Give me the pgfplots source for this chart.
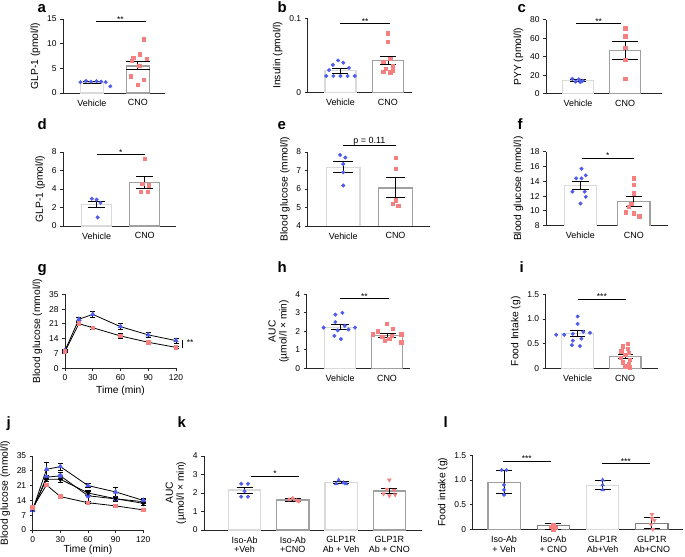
\documentclass[border=0pt]{standalone}
\usepackage{fontspec}
\setmainfont{Liberation Sans}
\usepackage{pgfplots}
\pgfplotsset{compat=1.18}

\definecolor{vblue}{RGB}{78,92,238}
\definecolor{cpink}{RGB}{246,128,128}
\definecolor{lgray}{RGB}{218,218,218}
\definecolor{mgray}{RGB}{160,160,160}

\pgfplotsset{
 panel/.style={
  scale only axis, anchor=south west, clip=false, height=74bp,
  axis x line*=bottom, axis y line*=left,
  axis line style={-, line width=0.9bp, black!85},
  tick style={line width=0.9bp, black!85},
  tick align=outside, major tick length=3bp,
  tick label style={font=\fontsize{8.5}{9}\selectfont},
  label style={font=\fontsize{10.3}{11}\selectfont},
  /pgf/number format/assume math mode=true,
 },
 cat/.style={xtick style={draw=none}, xticklabel style={font=\fontsize{9}{10}\selectfont, align=center}},
 vbar/.style={ybar, bar shift=0pt, fill=white, draw=lgray, line width=1.3bp},
 cbar/.style={ybar, bar shift=0pt, fill=white, draw=mgray, line width=1.3bp},
 vpoly/.style={fill=white, draw=lgray, line width=1.3bp, mark=none},
 cpoly/.style={fill=white, draw=mgray, line width=1.3bp, mark=none},
 vdots/.style={only marks, mark=*, mark size=1.8bp, color=vblue},
 cdots/.style={only marks, mark=square*, mark size=1.7bp, color=cpink},
 eb/.style={draw=none, mark=none, forget plot, error bars/.cd, y dir=both, y explicit,
   error bar style={draw=black, line width=0.9bp},
   error mark options={rotate=90, draw=black, line width=0.9bp, mark size=#1}},
 eb/.default=8bp,
 lineeb/.style={error bars/.cd, y dir=both, y explicit, error bar style={black, line width=0.7bp},
  error mark options={rotate=90, black, line width=0.7bp, mark size=2.5bp}},
}
\tikzset{
 sig/.style={line width=0.9bp},
 star/.style={font=\fontsize{8.5}{8.5}\selectfont, anchor=base, yshift=-1bp},
 plab/.style={font=\fontsize{15}{15}\selectfont\bfseries, anchor=base west},
}

\begin{document}
\begin{tikzpicture}
\path[use as bounding box] (0,0) rectangle (685bp,557bp);

% panel letters
\node[plab] at (34bp,544bp) {a};
\node[plab] at (274bp,544bp) {b};
\node[plab] at (514bp,544bp) {c};
\node[plab] at (34bp,427bp) {d};
\node[plab] at (274bp,427bp) {e};
\node[plab] at (514bp,427bp) {f};
\node[plab] at (34bp,284bp) {g};
\node[plab] at (274bp,284bp) {h};
\node[plab] at (516bp,284bp) {i};
\node[plab] at (3bp,129bp) {j};
\node[plab] at (174bp,129bp) {k};
\node[plab] at (440bp,129bp) {l};

% ---------- a ----------
\begin{axis}[panel, cat, at={(63bp,464bp)}, width=102bp, xmin=-0.63, xmax=1.59,
  ymin=0, ymax=15, ytick={0,5,10,15}, xtick={0,1}, xticklabels={Vehicle,CNO},
  ylabel={GLP-1 (pmol/l)}]
\addplot[vbar, bar width=0.5] coordinates {(0,2.15)};
\addplot[cbar, bar width=0.5] coordinates {(1,5.5)};
\addplot[vdots] coordinates {(-0.25,2.2) (-0.13,2.45) (-0.02,2.3) (0.1,2.4) (0.2,2.3) (0.3,2.2) (0.4,1.35)};
\addplot[cdots] coordinates {(1.13,10.9) (1.04,7.9) (0.9,7.1) (1.19,7.0) (0.87,6.6) (1.03,5.5) (0.84,3.4) (1.13,2.7) (1.0,1.7)};
\addplot[eb=9bp] coordinates {(0,2.15) +- (0,0.15)};
\addplot[eb=12bp] coordinates {(1,5.55) +- (0,0.85)};
\draw[sig] (axis cs:0.08,14.45) -- (axis cs:1.17,14.45);
\node[star] at (axis cs:0.62,14.45) {**};
\end{axis}

% ---------- b ----------
\begin{axis}[panel, cat, at={(307.7bp,464.7bp)}, width=104bp, xmin=-0.69, xmax=1.5,
  ymin=0, ymax=0.1, ytick={0,0.1}, yticklabels={0,0.1}, xtick={0,1}, xticklabels={Vehicle,CNO},
  ylabel={Insulin (pmol/l)}]
\addplot[vbar, bar width=0.65] coordinates {(0,0.029)};
\addplot[cbar, bar width=0.65] coordinates {(1,0.043)};
\addplot[vdots] coordinates {(-0.05,0.043) (0.06,0.040) (-0.16,0.037) (0.18,0.033) (-0.24,0.030) (-0.3,0.022) (-0.15,0.022) (0.0,0.022) (0.15,0.022) (0.3,0.022)};
\addplot[cdots] coordinates {(1,0.080) (1,0.068) (1.05,0.045) (0.9,0.041) (1.1,0.036) (0.95,0.032) (1.1,0.030) (0.9,0.028) (1.05,0.027)};
\addplot[eb=8bp] coordinates {(0,0.029) +- (0,0.003)};
\addplot[eb=8bp] coordinates {(1,0.043) +- (0,0.006)};
\draw[sig] (axis cs:0.0,0.093) -- (axis cs:1.04,0.093);
\node[star] at (axis cs:0.52,0.093) {**};
\end{axis}

% ---------- c ----------
\begin{axis}[panel, cat, at={(546bp,463.3bp)}, width=115.7bp, xmin=-0.68, xmax=1.78,
  ymin=0, ymax=80, ytick={0,20,40,60,80}, xtick={0,1}, xticklabels={Vehicle,CNO},
  ylabel={PYY (pmol/l)}]
\addplot[vbar, bar width=0.66] coordinates {(0,14.3)};
\addplot[cbar, bar width=0.66] coordinates {(1,46.4)};
\addplot[vdots] coordinates {(-0.12,16) (0.02,15.5) (0.1,14) (-0.05,13) (0.05,12.5)};
\addplot[cdots] coordinates {(1,71) (1,62) (1,50) (1,37) (1,16)};
\addplot[eb=8bp] coordinates {(0,14.25) +- (0,1.25)};
\addplot[eb=13bp] coordinates {(1,46.6) +- (0,9.8)};
\draw[sig] (axis cs:-0.04,75.4) -- (axis cs:0.91,75.4);
\node[star] at (axis cs:0.44,75.4) {**};
\end{axis}

% ---------- d ----------
\begin{axis}[panel, cat, at={(63bp,331bp)}, width=113bp, xmin=-0.70, xmax=1.65,
  ymin=0, ymax=8, ytick={0,2,4,6,8}, xtick={0,1}, xticklabels={Vehicle,CNO},
  ylabel={GLP-1 (pmol/l)}]
\addplot[vbar, bar width=0.625] coordinates {(0,2.33)};
\addplot[cbar, bar width=0.625] coordinates {(1,4.7)};
\addplot[vdots] coordinates {(-0.1,2.95) (0.0,2.85) (0.08,2.5) (0.02,0.93)};
\addplot[cdots] coordinates {(1,7.25) (0.95,4.6) (1.08,4.4) (0.92,3.7) (1.06,3.7)};
\addplot[eb=8.5bp] coordinates {(0,2.33) +- (0,0.37)};
\addplot[eb=8.5bp] coordinates {(1,4.75) +- (0,0.65)};
\draw[sig] (axis cs:0,7.75) -- (axis cs:1.0,7.75);
\node[star] at (axis cs:0.5,7.75) {*};
\end{axis}

% ---------- e ----------
\begin{axis}[panel, cat, at={(307.7bp,331bp)}, width=122.3bp, xmin=-0.68, xmax=1.66,
  ymin=4, ymax=8, ytick={4,5,6,7,8}, xtick={0,1}, xticklabels={Vehicle,CNO},
  ylabel={Blood glucose (mmol/l)}]
\addplot[vpoly] coordinates {(-0.32,4) (-0.32,7.17) (0.32,7.17) (0.32,4)};
\addplot[cpoly] coordinates {(0.68,4) (0.68,6.05) (1.32,6.05) (1.32,4)};
\addplot[vdots] coordinates {(-0.06,7.84) (0.04,7.7) (0.0,7.35) (0.0,6.9) (0.0,6.19)};
\addplot[cdots] coordinates {(1,7.7) (1,7.1) (1,5.4) (0.95,5.2) (1.05,5.1)};
\addplot[eb=10bp] coordinates {(0,7.2) +- (0,0.3)};
\addplot[eb=9.5bp] coordinates {(1,6.1) +- (0,0.55)};
\draw[sig] (axis cs:0,8.34) -- (axis cs:1.0,8.34);
\node[font=\fontsize{9}{9}\selectfont, anchor=base] at (axis cs:0.5,8.48) {p = 0.11};
\end{axis}

% ---------- f ----------
\begin{axis}[panel, cat, at={(546bp,331.3bp)}, width=122bp, xmin=-0.645, xmax=1.64,
  ymin=8, ymax=18, ytick={8,10,12,14,16,18}, xtick={0,1}, xticklabels={Vehicle,CNO},
  ylabel={Blood glucose (mmol/l)}]
\addplot[vpoly] coordinates {(-0.3,8) (-0.3,13.4) (0.3,13.4) (0.3,8)};
\addplot[cpoly] coordinates {(0.7,8) (0.7,11.25) (1.3,11.25) (1.3,8)};
\addplot[vdots] coordinates {(0.02,15.7) (0.1,14.8) (-0.08,14.4) (0.02,14.4) (-0.15,12.6) (0.08,12.6) (0.1,11.9) (0.0,11.0)};
\addplot[cdots] coordinates {(1,14.4) (1,13.5) (1,12.4) (0.95,11.0) (0.9,10.6) (0.85,9.8) (1.0,9.7) (1.1,9.3)};
\addplot[eb=8.3bp] coordinates {(0,13.45) +- (0,0.55)};
\addplot[eb=8.3bp] coordinates {(1,11.3) +- (0,0.7)};
\draw[sig] (axis cs:0.02,17.15) -- (axis cs:1.0,17.15);
\node[star] at (axis cs:0.51,17.15) {*};
\end{axis}

% ---------- g ----------
\begin{axis}[panel, at={(65bp,188.7bp)}, width=111bp, xmin=0, xmax=120,
  ymin=0, ymax=35, ytick={0,7,14,21,28,35}, xtick={0,30,60,90,120},
  xlabel={Time (min)}, xlabel style={yshift=2bp}, ylabel={Blood glucose (mmol/l)}]
\addplot[black, line width=0.8bp, mark=triangle*, mark options={vblue, mark size=2.4bp}, lineeb]
 coordinates {(0,8.4) +- (0,0.5) (15,23.2) +- (0,0.8) (30,25.5) +- (0,1.5) (60,19.7) +- (0,1.5) (90,15.8) +- (0,1.2) (120,13.1) +- (0,1.2)};
\addplot[black, line width=0.8bp, mark=square*, mark options={cpink, mark size=1.8bp}, lineeb]
 coordinates {(0,8.0) +- (0,0.5) (15,21.1) +- (0,0.6) (30,19.2) +- (0,0.6) (60,15.3) +- (0,1.0) (90,12.3) +- (0,0.6) (120,9.9) +- (0,0.6)};
\draw[line width=0.9bp] (axis cs:126.5,9.6) -- (axis cs:126.5,13.4);
\node[font=\fontsize{8.5}{8.5}\selectfont, anchor=west] at (axis cs:128,12.2) {**};
\end{axis}

% ---------- h ----------
\begin{axis}[panel, cat, at={(306.7bp,188.7bp)}, width=103.3bp, xmin=-0.71, xmax=1.49,
  ymin=0, ymax=4, ytick={0,1,2,3,4}, xtick={0,1}, xticklabels={Vehicle,CNO},
  ylabel={AUC\\(µmol/l × min)}, ylabel style={align=center}]
\addplot[vbar, bar width=0.67] coordinates {(0,2.2)};
\addplot[cbar, bar width=0.67] coordinates {(1,1.77)};
\addplot[vdots] coordinates {(-0.1,2.9) (0.05,3.0) (-0.1,2.5) (0.1,2.3) (-0.35,2.2) (0.32,2.2) (0.18,2.1) (-0.05,2.05) (-0.12,1.75) (0.02,1.58)};
\addplot[cdots] coordinates {(1.0,2.4) (1.12,2.15) (0.8,2.0) (0.7,1.85) (1.3,1.85) (1.1,1.75) (0.9,1.7) (1.05,1.6) (1.3,1.4) (0.95,1.5)};
\addplot[eb=8.7bp] coordinates {(0,2.23) +- (0,0.15)};
\addplot[eb=8.7bp] coordinates {(1,1.78) +- (0,0.1)};
\draw[sig] (axis cs:0,3.75) -- (axis cs:1.04,3.75);
\node[star] at (axis cs:0.52,3.75) {**};
\end{axis}

% ---------- i ----------
\begin{axis}[panel, cat, at={(545.7bp,188.7bp)}, width=112.3bp, xmin=-0.67, xmax=1.69,
  ymin=0, ymax=1.5, ytick={0,0.5,1,1.5}, yticklabels={0,0.5,1.0,1.5}, xtick={0,1}, xticklabels={Vehicle,CNO},
  ylabel={Food Intake (g)}]
\addplot[vbar, bar width=0.67] coordinates {(0,0.70)};
\addplot[cbar, bar width=0.67] coordinates {(1,0.24)};
\addplot[vdots] coordinates {(0,1.05) (0,0.9) (-0.45,0.68) (-0.28,0.68) (-0.1,0.7) (0.12,0.74) (0.26,0.72) (-0.1,0.56) (0.08,0.6) (-0.12,0.47) (0.05,0.45)};
\addplot[cdots] coordinates {(1.05,0.5) (0.95,0.45) (1.05,0.4) (0.92,0.35) (1.08,0.32) (1.0,0.28) (0.9,0.22) (1.1,0.18) (0.95,0.12) (1.08,0.08) (1.0,0.04) (1.1,0.02)};
\addplot[eb=7.5bp] coordinates {(0,0.705) +- (0,0.055)};
\addplot[eb=7.5bp] coordinates {(1,0.245) +- (0,0.045)};
\draw[sig] (axis cs:0,1.405) -- (axis cs:1.02,1.405);
\node[star] at (axis cs:0.51,1.405) {***};
\end{axis}

% ---------- j ----------
\begin{axis}[panel, at={(32.7bp,27bp)}, width=110.6bp, xmin=0, xmax=120,
  ymin=0, ymax=35, ytick={0,7,14,21,28,35}, xtick={0,30,60,90,120},
  xlabel={Time (min)}, xlabel style={yshift=4bp}, ylabel={Blood glucose (mmol/l)}]
\addplot[black, line width=0.8bp, mark=triangle*, mark options={vblue, mark size=2.4bp}, lineeb]
 coordinates {(0,9.5) +- (0,0.5) (15,28.7) +- (0,3.5) (30,30.0) +- (0,1.6) (60,21.0) +- (0,1.0) (90,18.0) +- (0,2.0) (120,14.0) +- (0,1.0)};
\addplot[black, line width=0.8bp, mark=*, mark options={vblue, mark size=2.1bp}, lineeb]
 coordinates {(0,9.5) +- (0,0.5) (15,25.0) +- (0,1.0) (30,25.6) +- (0,1.5) (60,16.2) +- (0,2.5) (90,14.7) +- (0,1.0) (120,13.4) +- (0,1.0)};
\addplot[black, line width=0.8bp, mark=triangle*, mark options={rotate=180, black, mark size=2.2bp}, lineeb]
 coordinates {(0,10.0) +- (0,0.5) (15,24.0) +- (0,1.0) (30,24.0) +- (0,1.6) (60,17.5) +- (0,1.0) (90,14.8) +- (0,0.8) (120,12.6) +- (0,0.8)};
\addplot[black, line width=0.8bp, mark=square*, mark options={cpink, mark size=1.8bp}, lineeb]
 coordinates {(0,10.6) +- (0,0.5) (15,21.3) +- (0,0.6) (30,15.8) +- (0,0.5) (60,12.9) +- (0,0.5) (90,11.4) +- (0,0.5) (120,9.5) +- (0,0.5)};
\end{axis}

% ---------- k ----------
\begin{axis}[panel, cat, at={(204bp,27bp)}, width=217.7bp, xmin=-0.84, xmax=3.67,
  ymin=0, ymax=4, ytick={0,1,2,3,4}, xtick={0,1,2,3},
  xticklabels={{Iso-Ab\\+Veh},{Iso-Ab\\+CNO},{GLP1R\\Ab + Veh},{GLP1R\\Ab + CNO}},
  ylabel={AUC\\(µmol/l × min)}, ylabel style={align=center}]
\addplot[vbar, bar width=0.67] coordinates {(0,2.16)};
\addplot[cbar, bar width=0.67] coordinates {(1,1.62)};
\addplot[vbar, bar width=0.67] coordinates {(2,2.56)};
\addplot[cbar, bar width=0.67] coordinates {(3,2.1)};
\addplot[vdots] coordinates {(-0.07,2.5) (0.07,2.5) (0.0,2.1) (-0.07,1.8) (0.07,1.8)};
\addplot[only marks, mark=*, mark size=1.8bp, color=cpink] coordinates {(1.0,1.72) (0.92,1.65) (1.08,1.6) (1.12,1.55)};
\addplot[only marks, mark=triangle*, mark size=2.2bp, color=vblue] coordinates {(1.95,2.7) (2.05,2.55) (1.9,2.5) (2.1,2.5)};
\addplot[only marks, mark=triangle*, mark size=2.2bp, mark options={rotate=180}, color=cpink] coordinates {(3.0,2.7) (2.95,2.2) (3.1,2.15) (2.88,1.95) (3.12,1.9) (3.0,1.85)};
\addplot[eb=8bp] coordinates {(0,2.14) +- (0,0.16)};
\addplot[eb=8bp] coordinates {(1,1.625) +- (0,0.075)};
\addplot[eb=8bp] coordinates {(2,2.575) +- (0,0.075)};
\addplot[eb=8bp] coordinates {(3,2.12) +- (0,0.12)};
\draw[sig] (axis cs:0.13,2.92) -- (axis cs:1.13,2.92);
\node[star] at (axis cs:0.63,2.92) {*};
\end{axis}

% ---------- l ----------
\begin{axis}[panel, cat, at={(472.7bp,27.7bp)}, width=210.3bp, xmin=-0.635, xmax=3.63,
  ymin=0, ymax=1.5, ytick={0,0.5,1,1.5}, yticklabels={0,0.5,1.0,1.5}, xtick={0,1,2,3},
  xticklabels={{Iso-Ab\\+ Veh},{Iso-Ab\\+ CNO},{GLP1R\\Ab+Veh},{GLP1R\\Ab+CNO}},
  ylabel={Food intake (g)}]
\addplot[ybar, bar shift=0pt, bar width=0.655, fill=white, draw=mgray, line width=1.3bp] coordinates {(0,0.95)};
\addplot[ybar, bar shift=0pt, bar width=0.655, fill=white, draw=mgray!80!black, line width=1.3bp] coordinates {(1,0.07)};
\addplot[ybar, bar shift=0pt, bar width=0.655, fill=white, draw=lgray, line width=1.3bp] coordinates {(2,0.89)};
\addplot[ybar, bar shift=0pt, bar width=0.655, fill=white, draw=mgray!80!black, line width=1.3bp] coordinates {(3,0.12)};
\addplot[vdots] coordinates {(-0.05,1.2) (0.05,1.2) (0.0,0.9) (0.0,0.8) (0.0,0.7)};
\addplot[cdots] coordinates {(1.0,0.08) (0.95,0.05) (1.05,0.03) (1,0.0)};
\addplot[only marks, mark=triangle*, mark size=2.2bp, color=vblue] coordinates {(2,1.0) (2,0.9) (2,0.8)};
\addplot[only marks, mark=triangle*, mark size=2.2bp, mark options={rotate=180}, color=cpink] coordinates {(3.0,0.3) (3.0,0.22) (3.05,0.18) (2.98,0.1) (3.02,0.0)};
\addplot[eb=8bp] coordinates {(0,0.96) +- (0,0.24)};
\addplot[eb=8bp] coordinates {(1,0.06) +- (0,0.06)};
\addplot[eb=8bp] coordinates {(2,0.9) +- (0,0.1)};
\addplot[eb=8bp] coordinates {(3,0.13) +- (0,0.12)};
\draw[sig] (axis cs:-0.03,1.385) -- (axis cs:0.95,1.385);
\node[star] at (axis cs:0.46,1.385) {***};
\draw[sig] (axis cs:1.98,1.34) -- (axis cs:2.97,1.34);
\node[star] at (axis cs:2.47,1.34) {***};
\end{axis}

\end{tikzpicture}
\end{document}
